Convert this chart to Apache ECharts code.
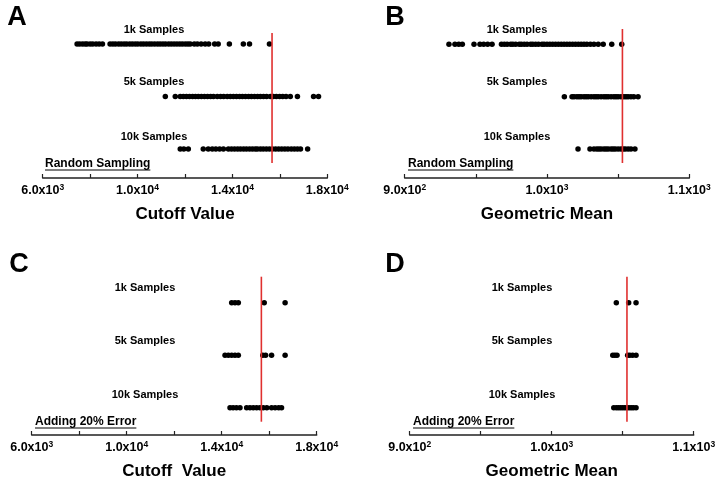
<!DOCTYPE html>
<html><head><meta charset="utf-8">
<script src="https://cdn.jsdelivr.net/npm/echarts@6/dist/echarts.min.js"></script>
<style>html,body{margin:0;padding:0;background:#fff}#c{width:724px;height:486px}</style>
</head><body><div id="c"></div>
<script>
// ---------- data ----------
const rowLabels = ['1k Samples', '5k Samples', '10k Samples'];
const rowPos = [3, 2, 1];
const refCutoff = 15670;
const refGeoMean = 1053;

// Panel A: Random sampling, cutoff value
const cutRand1k = [7450, 7560, 7680, 7790, 7870, 8000, 8110, 8250, 8380, 8520,
  8840, 8960, 9070, 9200, 9310, 9430, 9540, 9670, 9780, 9900, 10010, 10140, 10250, 10370, 10490,
  10600, 10720, 10840, 10950, 11070, 11180, 11310, 11420, 11540, 11660, 11780, 11890, 12010, 12120, 12220,
  12390, 12520, 12680, 12850, 13000, 13250, 13400, 13870, 14460, 14720, 15560];
const cutRand5k = [11170, 11590, 11800, 11930, 12060, 12190, 12320, 12440, 12560, 12690, 12820, 12950,
  13080, 13200, 13360, 13500, 13630, 13780, 13910, 14040, 14170, 14300, 14420, 14550, 14680, 14800,
  14930, 15060, 15180, 15310, 15440, 15600, 15720, 15850, 15990, 16120, 16260, 16440, 16740, 17420, 17630];
const cutRand10k = [11800, 11950, 12140, 12770, 12980, 13150, 13300, 13460, 13620, 13830, 13960, 14090,
  14220, 14340, 14470, 14590, 14720, 14840, 14960, 15050, 15180, 15300, 15430, 15560, 15690, 15820,
  15950, 16080, 16210, 16340, 16480, 16610, 16740, 16870, 17170];

// Panel B: Random sampling, geometric mean
const geoRand1k = [931.1, 935.3, 938, 940.5, 948.7, 952.9, 955.5, 958.3, 961.4,
  968, 970, 972, 974.5, 976, 978, 980.5, 982, 984, 986, 988.5, 990, 992, 994, 996.5, 998, 1000,
  1002, 1004, 1006, 1008, 1010, 1012, 1014, 1016, 1018, 1020, 1022, 1024, 1026, 1028, 1030.5,
  1033, 1036, 1039.5, 1045.5, 1052.5];
const geoRand5k = [1012.2, 1017.6, 1019, 1021, 1022.5, 1024, 1026, 1027.5, 1029, 1031, 1033, 1034.5,
  1036, 1038, 1040, 1041.5, 1043, 1045, 1047, 1048.5, 1050, 1052, 1054, 1055.5, 1057, 1059, 1061, 1064];
const geoRand10k = [1021.8, 1030.2, 1033, 1035, 1036.5, 1038, 1040, 1041.5, 1043, 1045, 1046.5, 1048,
  1050, 1052, 1053.5, 1055, 1057, 1059, 1061.8];

// Panel C: adding 20% error, cutoff value
const cutErr1k = [14420, 14560, 14700, 15790, 16670];
const cutErr5k = [14140, 14280, 14420, 14560, 14700, 15730, 15850, 16100, 16670];
const cutErr10k = [14350, 14480, 14620, 14770, 15050, 15190, 15330, 15470, 15610, 15750, 15900,
  16100, 16250, 16400, 16520];

// Panel D: adding 20% error, geometric mean
const geoErr1k = [1045.5, 1054.2, 1059.4];
const geoErr5k = [1043.0, 1044.5, 1046.0, 1053.5, 1055, 1057, 1059.4];
const geoErr10k = [1043.7, 1045.5, 1047, 1048.5, 1050, 1051.5, 1053, 1054.5, 1056, 1057.5, 1059.4];

const cutoffAxis = {min: 6000, max: 18000, interval: 2000, labelEvery: 4000};
const geoAxis = {min: 900, max: 1100, interval: 50, labelEvery: 100};

// ---------- layout / style ----------
const FONT = "'Liberation Sans', Arial, Helvetica, sans-serif";
const panels = [
  {letter: 'A', axis: cutoffAxis, axisName: 'Cutoff Value', rows: [cutRand1k, cutRand5k, cutRand10k], ref: refCutoff,
   method: 'Random Sampling',
   grid: {left: 42.7, right: 396.7, top: 33, height: 145}, ymin: 0.448, ymax: 3.21, lineLo: 0.734,
   letterPos: [17, 18], labelX: 154, labelY: [30, 82, 137], methodX: 45, methodY: 164},
  {letter: 'B', axis: geoAxis, axisName: 'Geometric Mean', rows: [geoRand1k, geoRand5k, geoRand10k], ref: refGeoMean,
   method: 'Random Sampling',
   grid: {left: 404.7, right: 34.7, top: 29, height: 149}, ymin: 0.448, ymax: 3.29, lineLo: 0.734,
   letterPos: [395, 18], labelX: 517, labelY: [30, 82, 137], methodX: 408, methodY: 164},
  {letter: 'C', axis: cutoffAxis, axisName: 'Cutoff  Value', rows: [cutErr1k, cutErr5k, cutErr10k], ref: refCutoff,
   method: 'Adding 20% Error',
   grid: {left: 31.7, right: 407.3, top: 276.7, height: 158.3}, ymin: 0.48, ymax: 3.495, lineLo: 0.733,
   letterPos: [19, 265], labelX: 145, labelY: [288, 341, 395], methodX: 35, methodY: 422},
  {letter: 'D', axis: geoAxis, axisName: 'Geometric Mean', rows: [geoErr1k, geoErr5k, geoErr10k], ref: refGeoMean,
   method: 'Adding 20% Error',
   grid: {left: 409.7, right: 30.3, top: 276.7, height: 158.3}, ymin: 0.48, ymax: 3.495, lineLo: 0.733,
   letterPos: [395, 265], labelX: 522, labelY: [288, 341, 395], methodX: 413, methodY: 422}
];

function sciLabel(ax) {
  return function (v) {
    if (Math.abs(((v - ax.min) % ax.labelEvery)) > 1e-6) return '';
    const e = Math.floor(Math.log10(v) + 1e-9);
    const m = (v / Math.pow(10, e)).toFixed(1);
    return '{m|' + m + 'x10}{e|' + e + '}';
  };
}

const ctx = document.createElement('canvas').getContext('2d');
ctx.font = 'bold 12px ' + FONT;

const grids = [], xAxes = [], yAxes = [], series = [], graphics = [];
panels.forEach((p, i) => {
  grids.push(p.grid);
  xAxes.push({
    type: 'value', gridIndex: i, min: p.axis.min, max: p.axis.max, interval: p.axis.interval,
    name: p.axisName, nameLocation: 'middle', nameGap: 28,
    nameTextStyle: {fontFamily: FONT, fontWeight: 'bold', fontSize: 17, color: '#000'},
    axisLine: {show: true, lineStyle: {color: '#222', width: 1.5}},
    axisTick: {show: true, inside: true, length: 4, lineStyle: {color: '#222', width: 1.2}},
    splitLine: {show: false},
    axisLabel: {
      margin: 5, formatter: sciLabel(p.axis),
      rich: {
        m: {fontFamily: FONT, fontWeight: 'bold', fontSize: 12.5, color: '#000', lineHeight: 15},
        e: {fontFamily: FONT, fontWeight: 'bold', fontSize: 8.5, color: '#000', lineHeight: 9, verticalAlign: 'top'}
      }
    }
  });
  yAxes.push({type: 'value', gridIndex: i, min: p.ymin, max: p.ymax, show: false});
  p.rows.forEach((vals, r) => {
    series.push({
      type: 'scatter', xAxisIndex: i, yAxisIndex: i, symbol: 'circle', symbolSize: 5.5,
      itemStyle: {color: '#000', opacity: 1}, silent: true, z: 2,
      data: vals.map(v => [v, rowPos[r]])
    });
    graphics.push({
      type: 'text', x: p.labelX, y: p.labelY[r],
      style: {text: rowLabels[r], fontFamily: FONT, fontWeight: 'bold', fontSize: 11, fill: '#000',
        align: 'center', verticalAlign: 'middle'}
    });
  });
  series.push({
    type: 'line', xAxisIndex: i, yAxisIndex: i, symbol: 'none', silent: true, clip: false,
    lineStyle: {color: '#e0302f', width: 1.6},
    data: [[p.ref, p.lineLo], [p.ref, p.ymax]], z: 3
  });
  graphics.push({
    type: 'text', x: p.letterPos[0], y: p.letterPos[1],
    style: {text: p.letter, fontFamily: FONT, fontWeight: 'bold', fontSize: 27, fill: '#000',
      align: 'center', verticalAlign: 'middle'}
  });
  graphics.push({
    type: 'text', x: p.methodX, y: p.methodY,
    style: {text: p.method, fontFamily: FONT, fontWeight: 'bold', fontSize: 12, fill: '#000',
      align: 'left', verticalAlign: 'middle'}
  });
  const w = ctx.measureText(p.method).width;
  graphics.push({type: 'line', shape: {x1: p.methodX, y1: p.methodY + 6, x2: p.methodX + w, y2: p.methodY + 6},
    style: {stroke: '#000', lineWidth: 1}});
});

const chart = echarts.init(document.getElementById('c'), null, {renderer: 'canvas'});
chart.setOption({
  backgroundColor: '#fff', animation: false,
  grid: grids, xAxis: xAxes, yAxis: yAxes, series: series, graphic: graphics
});
</script></body></html>
